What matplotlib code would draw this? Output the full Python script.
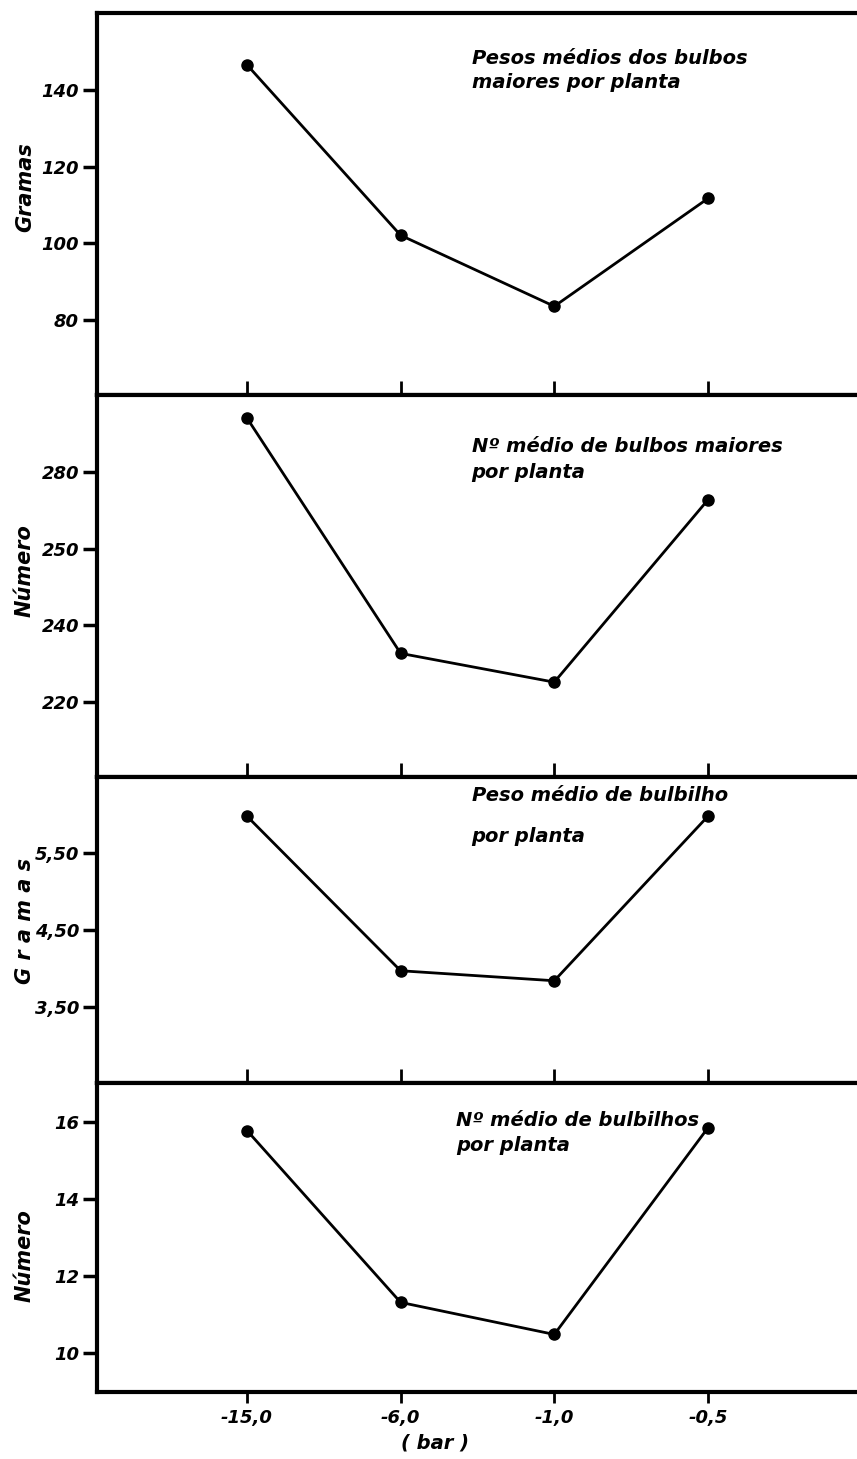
import matplotlib
matplotlib.use("Agg")
import matplotlib.pyplot as plt

# potencial (bar), mostrado como categorias igualmente espaçadas
x_labels = ["-15,0", "-6,0", "-1,0", "-0,5"]

peso_bulbos = [146.5, 102.1, 83.6, 111.7]
num_bulbos = [294.0, 232.7, 225.2, 272.7]
peso_bulbilho = [5.98, 3.97, 3.84, 5.98]
num_bulbilhos = [15.77, 11.32, 10.49, 15.84]

p1_ticks = [80, 100, 120, 140]
p1_labels = ["80", "100", "120", "140"]
p2_ticks = [220, 240, 260, 280]
p2_labels = ["220", "240", "250", "280"]   # como impresso no original
p3_ticks = [3.5, 4.5, 5.5]
p3_labels = ["3,50", "4,50", "5,50"]
p4_ticks = [10, 12, 14, 16]
p4_labels = ["10", "12", "14", "16"]

W, H = 857, 1459
fig = plt.figure(figsize=(W / 100, H / 100), dpi=100)

FONT = dict(fontweight="bold", fontstyle="italic", family="DejaVu Sans")


def make_axes(top_px, bot_px):
    left = 97 / W
    return fig.add_axes([left, 1 - bot_px / H, 1 - left, (bot_px - top_px) / H])


panels = [
    (13, 395, peso_bulbos, (60.5, 160), p1_ticks, p1_labels, "Gramas", 0.545),
    (395, 777, num_bulbos, (200.5, 300), p2_ticks, p2_labels, "Número", 0.54),
    (777, 1083, peso_bulbilho, (2.51, 6.49), p3_ticks, p3_labels, "G r a m a s", 0.53),
    (1083, 1392, num_bulbilhos, (9.0, 17.0), p4_ticks, p4_labels, "Número", 0.44),
]

axes = []
for i, (t, b, vals, ylim, ticks, labels, ylab, ylab_y) in enumerate(panels):
    ax = make_axes(t, b)
    xs = list(range(len(vals)))
    ax.plot(xs, vals, color="black", lw=2.0, marker="o", ms=8,
            mfc="black", mec="black", solid_joinstyle="miter")
    ax.set_xlim(-0.976, 3.97)
    ax.set_ylim(*ylim)
    ax.set_yticks(ticks)
    ax.set_yticklabels(labels, fontsize=13, **FONT)
    ax.set_xticks(xs)
    for s in ["left", "top", "bottom"]:
        ax.spines[s].set_linewidth(3)
    ax.spines["right"].set_visible(False)
    ax.tick_params(axis="y", direction="out", length=10, width=2.5, pad=3)
    if i < 3:
        ax.tick_params(axis="x", direction="in", length=10, width=2, labelbottom=False)
    else:
        ax.tick_params(axis="x", direction="out", length=8, width=2, pad=4)
        ax.set_xticklabels(x_labels, fontsize=13, **FONT)
    ax.text((25 - 97) / 760, ylab_y, ylab, rotation=90, transform=ax.transAxes,
            ha="center", va="center", fontsize=15, **FONT)
    axes.append(ax)

ax1, ax2, ax3, ax4 = axes
ax1.text(0.493, 0.905, "Pesos médios dos bulbos\nmaiores por planta",
         transform=ax1.transAxes, ha="left", va="top", fontsize=14,
         linespacing=1.3, **FONT)
ax2.text(0.493, 0.89, "Nº médio de bulbos maiores\npor planta",
         transform=ax2.transAxes, ha="left", va="top", fontsize=14,
         linespacing=1.45, **FONT)
ax3.text(0.493, 0.97, "Peso médio de bulbilho",
         transform=ax3.transAxes, ha="left", va="top", fontsize=14, **FONT)
ax3.text(0.493, 0.835, "por planta",
         transform=ax3.transAxes, ha="left", va="top", fontsize=14, **FONT)
ax4.text(0.472, 0.91, "Nº médio de bulbilhos\npor planta",
         transform=ax4.transAxes, ha="left", va="top", fontsize=14,
         linespacing=1.4, **FONT)

fig.text(435 / W, 1 - 1443 / H, "( bar )", ha="center", va="center",
         fontsize=14, **FONT)

fig.savefig("out.png", dpi=100)
